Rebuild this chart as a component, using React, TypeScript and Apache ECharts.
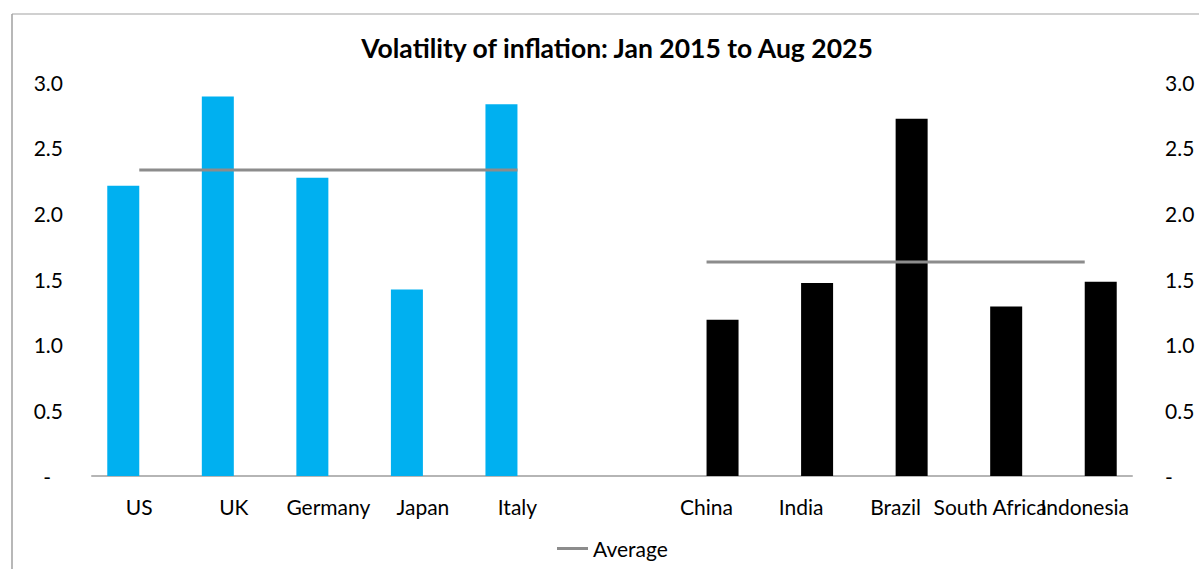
import React, { useEffect, useRef } from "react";
import * as echarts from "echarts";

const categories = ["US", "UK", "Germany", "Japan", "Italy", "", "China", "India", "Brazil", "South Africa", "Indonesia"];
const developedValues = [2.21, 2.89, 2.27, 1.42, 2.83, null, null, null, null, null, null];
const emergingValues = [null, null, null, null, null, null, 1.19, 1.47, 2.72, 1.29, 1.48];
const averageValues = [2.33, 2.33, 2.33, 2.33, 2.33, null, 1.63, 1.63, 1.63, 1.63, 1.63];
const yTicks = [0, 0.5, 1.0, 1.5, 2.0, 2.5, 3.0];

const FONT = "Lato, 'Open Sans', sans-serif";
const FS = 21;

export default function App() {
  const ref = useRef<HTMLDivElement>(null);
  useEffect(() => {
    if (!ref.current) return;
    const chart = echarts.init(ref.current, undefined, { renderer: "svg" });
    const fmt = (v: number) => (v === 0 ? "-" : v.toFixed(1));
    chart.setOption({
      animation: false,
      backgroundColor: "#ffffff",
      textStyle: { fontFamily: FONT },
      title: {
        text: "Volatility of inflation: Jan 2015 to Aug 2025",
        left: 612,
        top: 29,
        textAlign: "center",
        textStyle: { fontFamily: FONT, fontSize: 26.5, fontWeight: "bold", color: "#000" },
      },
      legend: {
        data: [{ name: "Average", icon: "rect" }],
        left: 552,
        top: 533,
        itemWidth: 31,
        itemHeight: 3,
        itemGap: 2,
        textStyle: { fontFamily: FONT, fontSize: FS, color: "#000" },
      },
      grid: { left: 92, right: 67, top: 82, bottom: 93, containLabel: false },
      xAxis: {
        type: "category",
        data: categories,
        axisLine: { lineStyle: { color: "#b5b5b5", width: 2 } },
        axisTick: { show: false },
        axisLabel: { interval: 0, hideOverlap: false, fontFamily: FONT, fontSize: FS, color: "#000", margin: 20 },
      },
      yAxis: [
        {
          type: "value",
          min: yTicks[0],
          max: yTicks[yTicks.length - 1],
          interval: 0.5,
          position: "left",
          splitLine: { show: false },
          axisLine: { show: false },
          axisTick: { show: false },
          axisLabel: {
            fontFamily: FONT,
            fontSize: FS,
            color: "#000",
            margin: 29,
            formatter: (v: number) => (v === 0 ? "{d|-}" : fmt(v)),
            rich: { d: { fontFamily: FONT, fontSize: FS, color: "#000", padding: [0, 12, 0, 0] } },
          },
        },
        {
          type: "value",
          min: yTicks[0],
          max: yTicks[yTicks.length - 1],
          interval: 0.5,
          position: "right",
          splitLine: { show: false },
          axisLine: { show: false },
          axisTick: { show: false },
          axisLabel: { fontFamily: FONT, fontSize: FS, color: "#000", margin: 33, formatter: fmt },
        },
      ],
      series: [
        {
          name: "Developed",
          type: "bar",
          data: developedValues,
          barWidth: 32,
          barGap: "0%",
          itemStyle: { color: "#00b0f0" },
        },
        {
          name: "Emerging",
          type: "bar",
          data: emergingValues,
          barWidth: 32,
          barGap: "0%",
          itemStyle: { color: "#000000" },
        },
        {
          name: "Average",
          type: "line",
          data: averageValues,
          symbol: "none",
          showSymbol: false,
          connectNulls: false,
          lineStyle: { color: "#8c8c8c", width: 3 },
          itemStyle: { color: "#8c8c8c" },
        },
      ],
      graphic: [
        { type: "line", shape: { x1: 12, y1: 14, x2: 1199, y2: 14 }, style: { stroke: "#c0c0c0", lineWidth: 1.5 } },
        { type: "line", shape: { x1: 12, y1: 14, x2: 12, y2: 569 }, style: { stroke: "#a0a0a0", lineWidth: 1.5 } },
      ],
    });
    return () => chart.dispose();
  }, []);
  return <div ref={ref} style={{ position: "fixed", left: 0, top: 0, width: 1199, height: 569 }} />;
}
